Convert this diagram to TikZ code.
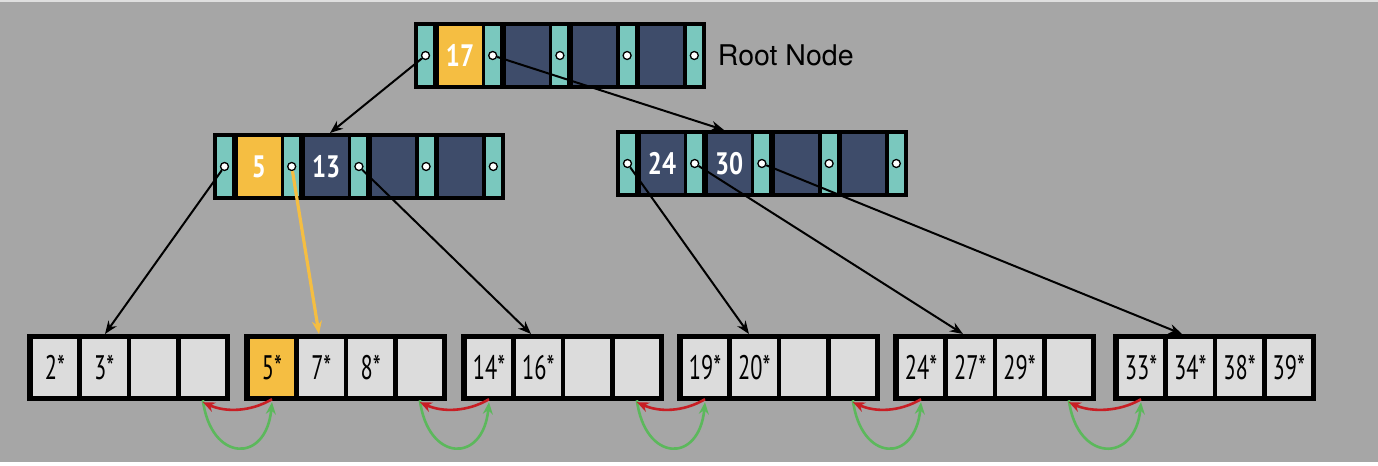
\documentclass[tikz,border=0pt]{standalone}
\usepackage{fontspec}
\usepackage{xcolor}
\usepackage{tikz}
\usetikzlibrary{arrows.meta,positioning,calc}
\newfontfamily\labelfont{TeX Gyre Heros}
\newfontfamily\keyfont[FakeStretch=0.8]{PT Sans}
\newfontfamily\leaffont[FakeStretch=0.66]{PT Sans}
\definecolor{bg}{RGB}{166,166,166}
\definecolor{ptrc}{RGB}{122,200,190}
\definecolor{keyc}{RGB}{62,76,106}
\definecolor{hl}{RGB}{245,190,66}
\definecolor{cellc}{RGB}{220,220,220}
\definecolor{back}{RGB}{200,30,36}
\definecolor{fwd}{RGB}{92,184,92}

\begin{document}
\begin{tikzpicture}[x=1pt, y=-1pt,
  box/.style={fill=black, inner sep=0pt, minimum width=292pt, minimum height=67pt, anchor=north west},
  ptr/.style={fill=ptrc, inner sep=0pt, minimum width=15pt, minimum height=59pt},
  key/.style={fill=keyc, inner sep=0pt, minimum width=43pt, minimum height=59pt, text=white,
    font=\keyfont\bfseries\fontsize{31}{31}\selectfont},
  dot/.style={circle, draw=black, fill=white, line width=1.3pt, inner sep=0pt, minimum size=8pt},
  leaf/.style={fill=black, inner sep=0pt, minimum width=203pt, minimum height=67pt, anchor=north west},
  cell/.style={fill=cellc, inner sep=0pt, minimum width=44.5pt, minimum height=57pt,
    font=\leaffont\fontsize{34}{34}\selectfont},
  link/.style={-{Stealth[length=13pt, width=10pt]}, line width=2pt},
  fwdlink/.style={-{Stealth[length=12pt, width=10pt]}, line width=2.6pt, fwd},
  backlink/.style={-{Stealth[length=12pt, width=10pt]}, line width=2.6pt, back}]
% ---- background
\fill[bg] (0,0) rectangle (1378,462);
\fill[gray!25] (0,0) rectangle (1378,2.5);
% ---- index nodes
\foreach \n/\x/\y/\ka/\kb/\ca in {root/414/22/17/{}/hl, lft/213/133/5/13/hl, rgt/616/130/24/30/keyc} {
  \node[box] (\n) at (\x,\y) {};
  \foreach \i in {0,...,4}
    \node[ptr] (\n-p\i) at (\x+11.5+67.2*\i,\y+33.5) {};
  \node[key, fill=\ca] (\n-k1) at (\x+46,\y+33.5) {\ka};
  \node[key] (\n-k2) at (\x+113.2,\y+33.5) {\kb};
  \node[key] (\n-k3) at (\x+180.4,\y+33.5) {};
  \node[key] (\n-k4) at (\x+247.6,\y+33.5) {};
  \foreach \i in {0,...,4}
    \node[dot] (\n-c\i) at (\n-p\i) {};
}
\node[right=8pt of root, font=\labelfont\fontsize{28.5}{28.5}\selectfont] (rootlbl) {Root Node};
% ---- leaf pages
\foreach \j/\x/\cf/\ta/\tb/\tc/\td in {1/27/cellc/2*/3*/{}/{}, 2/244/hl/5*/7*/8*/{},
    3/461/cellc/14*/16*/{}/{}, 4/677/cellc/19*/20*/{}/{}, 5/893/cellc/24*/27*/29*/{},
    6/1113/cellc/33*/34*/38*/39*} {
  \node[leaf] (lf\j) at (\x,334) {};
  \node[cell, fill=\cf] (lf\j-1) at (\x+28,367.5) {\ta};
  \node[cell] (lf\j-2) at (\x+77.3,367.5) {\tb};
  \node[cell] (lf\j-3) at (\x+126.6,367.5) {\tc};
  \node[cell] (lf\j-4) at (\x+175.9,367.5) {\td};
}
% ---- child pointers
\draw[link] (root-c0) -- ([xshift=117pt]lft.north west);
\draw[link] (root-c1) -- ([xshift=108pt]rgt.north west);
\foreach \s/\t/\d in {lft-c0/lf1/78, lft-c2/lf3/70, rgt-c0/lf4/72, rgt-c1/lf5/70, rgt-c2/lf6/69}
  \draw[link] (\s) -- ([xshift=\d pt]\t.north west);
\draw[link, hl, line width=3.2pt] (lft-c1) -- ([xshift=75pt]lf2.north west);
% ---- sibling pointers
\foreach \a/\b in {1/2,2/3,3/4,4/5,5/6} {
  \draw[fwdlink] ([yshift=-4pt]lf\a-4.south) .. controls +(8,62) and +(-6,62) .. ([yshift=-6pt]lf\b-1.south);
  \draw[backlink] ([yshift=-3pt]lf\b-1.south) .. controls +(-22,13) and +(22,10) .. ([yshift=-6pt]lf\a-4.south);
}
\end{tikzpicture}
\end{document}
